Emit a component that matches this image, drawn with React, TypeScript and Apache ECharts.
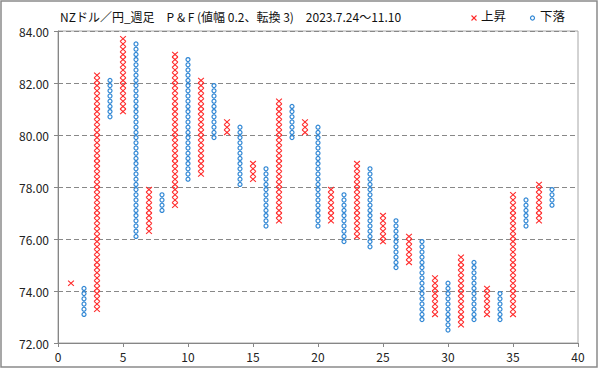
import React, { useEffect, useRef } from "react";
import * as echarts from "echarts";

// P&F columns: index, type (X = rise, O = fall), low box, high box
const columnIndex = [1,2,3,4,5,6,7,8,9,10,11,12,13,14,15,16,17,18,19,20,21,22,23,24,25,26,27,28,29,30,31,32,33,34,35,36,37,38];
const columnType = ["X","O","X","O","X","O","X","O","X","O","X","O","X","O","X","O","X","O","X","O","X","O","X","O","X","O","X","O","X","O","X","O","X","O","X","O","X","O"];
const lowValues = [74.3,73.1,73.3,80.7,80.9,76.1,76.3,77.1,77.3,78.3,78.5,79.9,80.1,78.1,78.3,76.5,76.7,79.9,80.1,76.5,76.7,75.9,76.1,75.7,75.9,74.9,75.1,72.9,73.1,72.5,72.7,72.9,73.1,72.9,73.1,76.5,76.7,77.3];
const highValues = [74.3,74.1,82.3,82.1,83.7,83.5,77.9,77.7,83.1,82.9,82.1,81.9,80.5,80.3,78.9,78.7,81.3,81.1,80.5,80.3,77.9,77.7,78.9,78.7,76.9,76.7,76.1,75.9,74.5,74.3,75.3,75.1,74.1,73.9,77.7,77.5,78.1,77.9];
const boxSize = 0.2;
const xTicks = [0, 5, 10, 15, 20, 25, 30, 35, 40];
const yTicks = [72, 74, 76, 78, 80, 82, 84];

const titleText = "NZドル／円_週足　P & F (値幅 0.2、転換 3)　2023.7.24〜11.10";
const legendRise = "上昇";
const legendFall = "下落";

const RED = "#ff2a2a";
const BLUE = "#2f86d4";
const FONT = "'Noto Sans CJK JP', 'Noto Sans', sans-serif";

export default function App() {
  const ref = useRef<HTMLDivElement>(null);
  useEffect(() => {
    if (!ref.current) return;
    const chart = echarts.init(ref.current, null, { renderer: "svg" });
    const riseData: number[][] = [];
    const fallData: number[][] = [];
    columnIndex.forEach((c, i) => {
      const row = [c, lowValues[i], highValues[i]];
      if (columnType[i] === "X") riseData.push(row);
      else fallData.push(row);
    });
    const renderCol = (isX: boolean) => (params: any, api: any) => {
      const x = api.value(0);
      const lo = api.value(1);
      const hi = api.value(2);
      const n = Math.round((hi - lo) / boxSize) + 1;
      const children: any[] = [];
      for (let k = 0; k < n; k++) {
        const v = lo + k * boxSize;
        const p = api.coord([x, v]);
        if (isX) {
          children.push({
            type: "line",
            shape: { x1: p[0] - 2.9, y1: p[1] - 2.6, x2: p[0] + 2.9, y2: p[1] + 2.6 },
            style: { stroke: RED, lineWidth: 1.1 },
          });
          children.push({
            type: "line",
            shape: { x1: p[0] + 2.9, y1: p[1] - 2.6, x2: p[0] - 2.9, y2: p[1] + 2.6 },
            style: { stroke: RED, lineWidth: 1.1 },
          });
        } else {
          children.push({
            type: "circle",
            shape: { cx: p[0], cy: p[1], r: 2 },
            style: { stroke: BLUE, lineWidth: 1.2, fill: "#fff" },
          });
        }
      }
      return { type: "group", children };
    };
    chart.setOption({
      animation: false,
      backgroundColor: "#fff",
      grid: { left: 58, right: 21, top: 31, bottom: 26, show: true, borderColor: "#a6a6a6", borderWidth: 1 },
      xAxis: {
        type: "value",
        min: 0,
        max: 40,
        interval: 5,
        axisLine: { show: true, onZero: false, lineStyle: { color: "#868686" } },
        axisTick: { show: true, length: 4, lineStyle: { color: "#868686" } },
        axisLabel: { color: "#222", fontSize: 12, fontFamily: FONT, margin: 7, formatter: (v: number) => (xTicks.includes(v) ? String(v) : "") },
        splitLine: { show: false },
      },
      yAxis: {
        type: "value",
        min: 72,
        max: 84,
        interval: 2,
        axisLine: { show: true, onZero: false, lineStyle: { color: "#868686" } },
        axisTick: { show: true, length: 4, lineStyle: { color: "#868686" } },
        axisLabel: { color: "#222", fontSize: 12, fontFamily: FONT, margin: 9, formatter: (v: number) => (yTicks.includes(v) ? v.toFixed(2) : "") },
        splitLine: { show: true, lineStyle: { color: "#888", type: [5, 3], width: 1 } },
      },
      series: [
        { type: "custom", name: legendRise, data: riseData, renderItem: renderCol(true), encode: { x: 0, y: [1, 2] } },
        { type: "custom", name: legendFall, data: fallData, renderItem: renderCol(false), encode: { x: 0, y: [1, 2] } },
      ],
      graphic: [
        { type: "rect", shape: { x: 1, y: 1, width: 596, height: 366 }, style: { fill: "none", stroke: "#8a8a8a", lineWidth: 1.5 }, silent: true },
        { type: "text", left: 60, top: 10, style: { text: titleText, fill: "#111", font: `12px ${FONT}` } },
        { type: "line", shape: { x1: 471.5, y1: 15.5, x2: 476.5, y2: 20.5 }, style: { stroke: RED, lineWidth: 1.1 } },
        { type: "line", shape: { x1: 476.5, y1: 15.5, x2: 471.5, y2: 20.5 }, style: { stroke: RED, lineWidth: 1.1 } },
        { type: "text", left: 481, top: 9, style: { text: legendRise, fill: "#111", font: `12.5px ${FONT}` } },
        { type: "circle", shape: { cx: 532.5, cy: 18, r: 2 }, style: { stroke: BLUE, lineWidth: 1.2, fill: "#fff" } },
        { type: "text", left: 540, top: 9, style: { text: legendFall, fill: "#111", font: `12.5px ${FONT}` } },
      ],
    });
    return () => chart.dispose();
  }, []);
  return <div ref={ref} style={{ position: "fixed", left: 0, top: 0, width: 599, height: 369 }} />;
}
